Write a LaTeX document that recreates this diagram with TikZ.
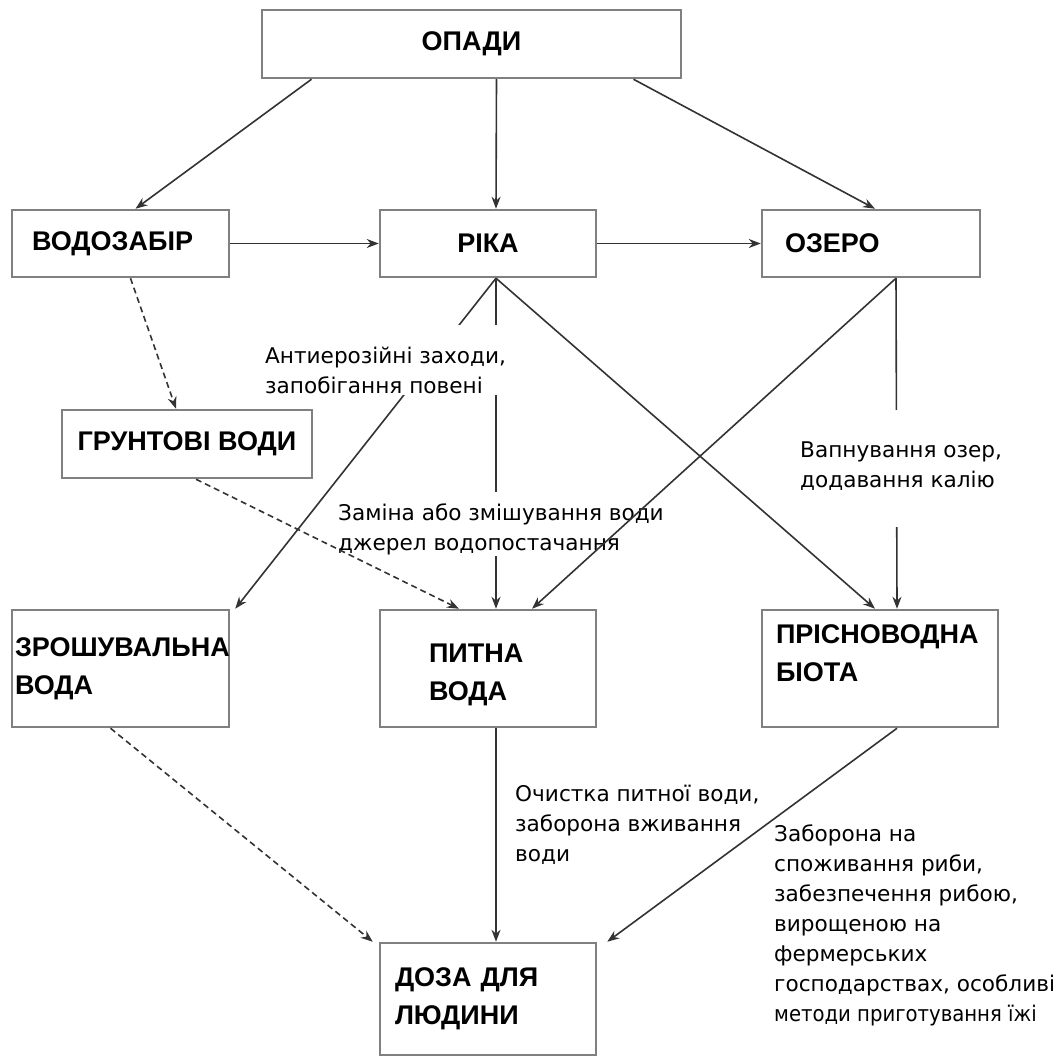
\documentclass[tikz,border=0pt]{standalone}
\usepackage{fontspec}
\usepackage{graphicx}
\setmainfont{DejaVu Sans}
\newfontfamily\headfont{Liberation Sans}
\usetikzlibrary{arrows.meta}

\begin{document}
\begin{tikzpicture}[x=1pt, y=-1pt,
    box/.style={draw=black!50, line width=2.5pt, inner sep=0pt, align=left,
        font=\headfont\bfseries\fontsize{27}{38}\selectfont},
    note/.style={align=left, inner xsep=2pt, inner ysep=2pt, anchor=base west,
        font=\fontsize{21.6}{30}\selectfont},
    cut/.style={note, fill=white},
    link/.style={-{Stealth[length=12pt,width=9pt]}, line width=1.6pt, draw=black!80},
    dlink/.style={link, dash pattern=on 6pt off 4pt}]
    \useasboundingbox (0,0) rectangle (1055,1059);

    \node[box, minimum width=419pt, minimum height=68pt] (opady) at (471.5,44) {ОПАДИ};
    \node[box, minimum width=217pt, minimum height=67pt, text width=177pt] (vodozabir) at (120.5,243.5) {ВОДОЗАБІР};
    \node[box, minimum width=216pt, minimum height=67pt] (rika) at (488,243.5) {РІКА};
    \node[box, minimum width=218pt, minimum height=67pt, text width=172pt] (ozero) at (871,243.5) {ОЗЕРО};
    \node[box, minimum width=250pt, minimum height=68pt] (grunt) at (187,444) {ГРУНТОВІ ВОДИ};
    \node[box, minimum width=217pt, minimum height=117pt, text width=211pt] (zrosh) at (120.5,668.5) {ЗРОШУВАЛЬНА\\ВОДА};
    \node[box, minimum width=216pt, minimum height=117pt, text width=118pt, text height=31pt] (pytna) at (488,668.5) {ПИТНА\\ВОДА};
    \node[box, minimum width=236pt, minimum height=117pt, text width=208pt, text depth=68pt] (prisn) at (880,668.5) {ПРІСНОВОДНА\\БІОТА};
    \node[box, minimum width=216pt, minimum height=112pt, text width=186pt] (doza) at (488,999) {ДОЗА ДЛЯ\\ЛЮДИНИ};

    \draw[link] ([xshift=-160pt]opady.south) -- ([xshift=15pt]vodozabir.north);
    \draw[link] ([xshift=25pt]opady.south) -- ([xshift=8pt]rika.north);
    \draw[link] ([xshift=162pt]opady.south) -- ([xshift=4pt]ozero.north);
    \draw[link] (vodozabir) -- (rika);
    \draw[link] (rika) -- (ozero);
    \draw[dlink] ([xshift=10pt]vodozabir.south) -- ([xshift=-11pt]grunt.north);
    \draw[link] ([xshift=8pt]rika.south) -- ([xshift=5pt]zrosh.north east);
    \draw[link] ([xshift=8pt]rika.south) -- ([xshift=8pt]pytna.north);
    \draw[link] ([xshift=8pt]rika.south) -- ([xshift=-5pt]prisn.north);
    \draw[link] ([xshift=25pt]ozero.south) -- ([xshift=17pt]prisn.north);
    \draw[dlink] ([xshift=-10pt]zrosh.south) -- ([xshift=-6pt]doza.north west);
    \draw[link] ([xshift=8pt]pytna.south) -- ([xshift=8pt]doza.north);
    \draw[link] ([xshift=17pt]prisn.south) -- ([xshift=10pt]doza.north east);

    \node[cut, text height=66pt] (antiero) at (263,393) {Антиерозійні заходи,\\запобігання повені};
    \node[cut, text height=56pt] (zamina) at (336,550) {Заміна або змішування води\\джерел водопостачання};
    \node[cut, text height=75pt, text depth=38pt] (vapn) at (798,487) {Вапнування озер,\\додавання калію};
    \node[note] (ochys) at (513,861) {Очистка питної води,\\заборона вживання\\води};
    \node[note] (zabor) at (772,1021) {Заборона на\\споживання риби,\\забезпечення рибою,\\вирощеною на\\фермерських\\господарствах, особливі\\\scalebox{0.91}[1]{методи приготування їжі}};

    \draw[link] ([xshift=25pt]ozero.south) -- ([xshift=44pt]pytna.north);
    \draw[dlink] ([xshift=9pt]grunt.south) -- ([xshift=-29pt]pytna.north);
\end{tikzpicture}
\end{document}
